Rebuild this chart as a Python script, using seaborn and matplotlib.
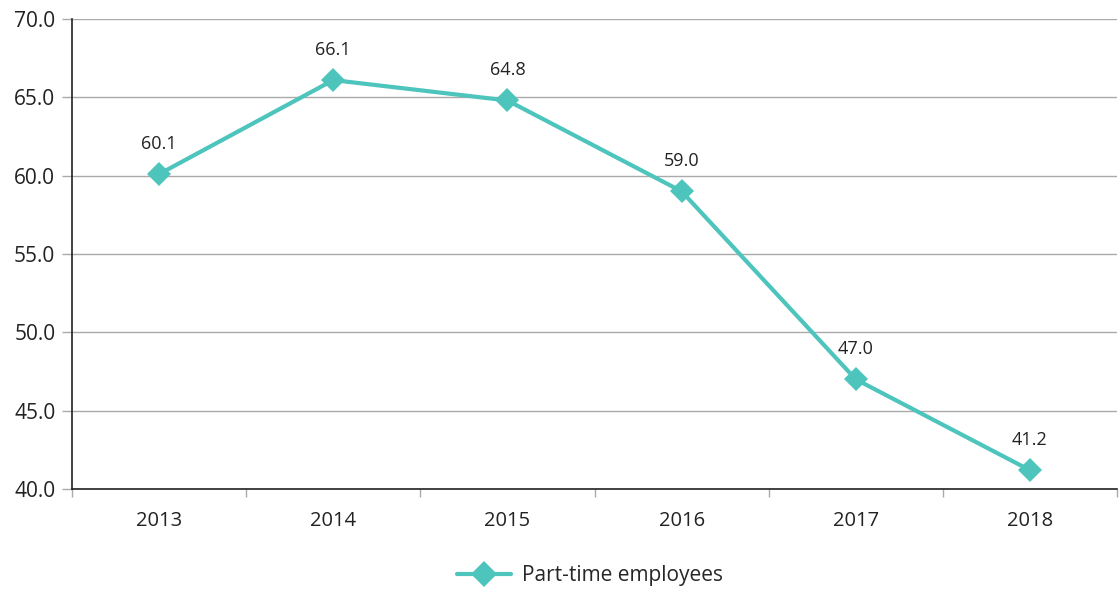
import matplotlib
matplotlib.use("Agg")
import matplotlib.pyplot as plt
import seaborn as sns
import pandas as pd
from matplotlib.lines import Line2D

years = ["2013", "2014", "2015", "2016", "2017", "2018"]
values = [60.1, 66.1, 64.8, 59.0, 47.0, 41.2]
series_name = "Part-time employees"
yticks = [40.0, 45.0, 50.0, 55.0, 60.0, 65.0, 70.0]

sns.set_theme(style="white")
plt.rcParams['font.family'] = ['Open Sans', 'DejaVu Sans']

color = "#4dc4bc"
df = pd.DataFrame({"year": years, "value": values})
df["x"] = range(len(years))

fig = plt.figure(figsize=(11.19, 5.91), dpi=100)
ax = fig.add_axes([72/1119, 1 - 489/591, (1117-72)/1119, (489-19)/591])

sns.lineplot(data=df, x="x", y="value", ax=ax, color=color, linewidth=3,
             marker="D", markersize=12, markeredgewidth=0, legend=False)

for xi, v in zip(df["x"], values):
    ax.annotate(f"{v:.1f}", (xi, v), xytext=(0, 22), textcoords="offset points",
                ha="center", va="center", fontsize=13, color="#222222")

ax.set_xlim(-0.5, len(years) - 0.5)
ax.set_ylim(40, 70)
ax.set_yticks(yticks)
ax.set_yticklabels([f"{t:.1f}" for t in yticks], fontsize=15, color="#222222")
ax.set_xticks(range(len(years)))
ax.set_xticklabels(years, fontsize=14.5, color="#222222")
ax.tick_params(axis="x", length=0, pad=16)
ax.set_xticks([i - 0.5 for i in range(len(years) + 1)], minor=True)
ax.tick_params(axis="x", which="minor", length=6, color="#aaaaaa", width=1, direction="out", bottom=True)
ax.tick_params(axis="y", length=7, color="#aaaaaa", width=1, direction="out", left=True, pad=5)

ax.grid(axis="y", color="#aaaaaa", linewidth=1)
ax.set_axisbelow(True)
for s in ["top", "right"]:
    ax.spines[s].set_visible(False)
ax.spines["left"].set_color("#222222")
ax.spines["bottom"].set_color("#222222")
ax.spines["left"].set_linewidth(1.2)
ax.spines["bottom"].set_linewidth(1.2)
ax.set_xlabel("")
ax.set_ylabel("")

handle = Line2D([0], [0], color=color, linewidth=3, marker="D", markersize=13, markeredgewidth=0)
fig.legend([handle], [series_name], loc="center", bbox_to_anchor=(590/1119, 1 - 576/591),
           frameon=False, fontsize=15, handlelength=2.6, handletextpad=0.5)

fig.savefig("out.png", dpi=100)
